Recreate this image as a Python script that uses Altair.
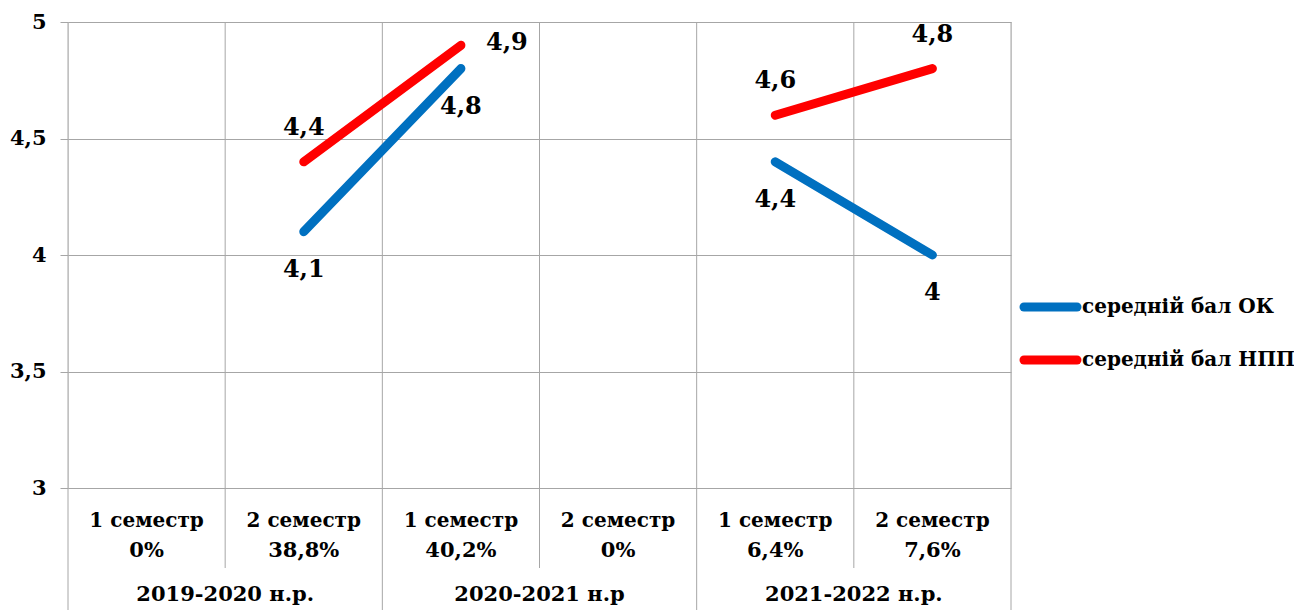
import altair as alt
import pandas as pd

# ---- data ----
semesters = ["1 семестр", "2 семестр", "1 семестр", "2 семестр", "1 семестр", "2 семестр"]
shares = ["0%", "38,8%", "40,2%", "0%", "6,4%", "7,6%"]
years = ["2019-2020 н.р.", "2020-2021 н.р", "2021-2022 н.р."]
series_names = ["середній бал ОК", "середній бал НПП"]
ok_values = [None, 4.1, 4.8, None, 4.4, 4.0]
npp_values = [None, 4.4, 4.9, None, 4.6, 4.8]
ok_label_pos = [None, "below", "below", None, "below", "below"]
npp_label_pos = [None, "above", "right", None, "above", "above"]
colors = ["#0070C0", "#FF0000"]

FONT = "DejaVu Serif"

# ---- tables ----
rows = []
for name, vals, pos in [(series_names[0], ok_values, ok_label_pos),
                        (series_names[1], npp_values, npp_label_pos)]:
    seg = 0
    prev_null = True
    for i, v in enumerate(vals):
        if v is None:
            prev_null = True
            continue
        if prev_null:
            seg += 1
        prev_null = False
        rows.append({"series": name, "xi": i + 0.5, "value": v,
                     "segment": f"{name}-{seg}", "pos": pos[i]})
df = pd.DataFrame(rows)

cats = pd.DataFrame({"xi": [i + 0.5 for i in range(len(semesters))],
                     "sem": semesters, "share": shares})
grp = pd.DataFrame({"xc": [2 * i + 1 for i in range(len(years))], "year": years})
bounds = pd.DataFrame({"b": list(range(len(semesters) + 1))})
bounds["outer"] = bounds["b"] % 2 == 0

xscale = alt.Scale(domain=[0, len(semesters)], nice=False, zero=False)
yscale = alt.Scale(domain=[3, 5], nice=False, zero=False)
color = alt.Color("series:N", scale=alt.Scale(domain=series_names, range=colors), legend=None)

# y axis with horizontal gridlines
yaxis = alt.Axis(values=[3, 3.5, 4, 4.5, 5], grid=True, gridColor="#A6A6A6", gridWidth=1,
                 domain=False, tickSize=8, tickColor="#A6A6A6", labelPadding=14,
                 labelFont=FONT, labelFontWeight="bold", labelFontSize=21, labelColor="#000000",
                 labelExpr="datum.value % 1 == 0 ? format(datum.value, 'd') : replace(format(datum.value, '.1f'), '.', ',')",
                 title=None)

base_axis = alt.Chart(bounds).mark_point(opacity=0).encode(
    x=alt.X("b:Q", scale=xscale, axis=None),
    y=alt.Y("b:Q", scale=yscale, axis=yaxis),
).transform_filter("false")

outer_rules = alt.Chart(bounds).transform_filter("datum.outer").mark_rule(
    color="#A6A6A6", strokeWidth=1).encode(
    x=alt.X("b:Q", scale=xscale), y=alt.value(0), y2=alt.value(600))
inner_rules = alt.Chart(bounds).transform_filter("!datum.outer").mark_rule(
    color="#A6A6A6", strokeWidth=1).encode(
    x=alt.X("b:Q", scale=xscale), y=alt.value(0), y2=alt.value(546))

lines = alt.Chart(df).mark_line(strokeWidth=9, strokeCap="round", strokeJoin="round").encode(
    x=alt.X("xi:Q", scale=xscale),
    y=alt.Y("value:Q", scale=yscale),
    color=color,
    detail="segment:N",
)

lbl_calc = "replace(format(datum.value, '~g'), '.', ',')"
def labels(pos, dx, dy):
    return alt.Chart(df).transform_filter(f"datum.pos == '{pos}'").transform_calculate(
        lbl=lbl_calc).mark_text(font=FONT, fontWeight="bold", fontSize=24, color="#000000",
                                baseline="middle", align="center", dx=dx, dy=dy).encode(
        x=alt.X("xi:Q", scale=xscale), y=alt.Y("value:Q", scale=yscale), text="lbl:N")

lab_below = labels("below", 0, 38)
lab_above = labels("above", 0, -34)
lab_right = labels("right", 46, -2)

def cat_text(src, field, xfield, ypx, size):
    return alt.Chart(src).mark_text(font=FONT, fontWeight="bold", fontSize=size, color="#000000",
                                    baseline="middle").encode(
        x=alt.X(f"{xfield}:Q", scale=xscale), y=alt.value(ypx), text=f"{field}:N")

sem_text = cat_text(cats, "sem", "xi", 499, 20)
share_text = cat_text(cats, "share", "xi", 529, 21)
year_text = cat_text(grp, "year", "xc", 573, 21)

# legend drawn manually
leg_layers = []
for k, name in enumerate(series_names):
    ldf = pd.DataFrame({"series": [name]})
    ly = 285 + 53 * k
    leg_layers.append(alt.Chart(ldf).mark_rule(strokeWidth=9, strokeCap="round").encode(
        x=alt.value(956), x2=alt.value(1009), y=alt.value(ly), color=color))
    leg_layers.append(alt.Chart(ldf).mark_text(font=FONT, fontWeight="bold", fontSize=20,
                                               color="#000000", align="left", baseline="middle").encode(
        x=alt.value(1014), y=alt.value(ly), text="series:N"))

chart = alt.layer(base_axis, outer_rules, inner_rules, lines, lab_below, lab_above, lab_right,
                  sem_text, share_text, year_text, *leg_layers).properties(
    width=943, height=466,
    autosize=alt.AutoSizeParams(type="none"),
    padding={"left": 60, "top": 14, "right": 283, "bottom": 122},
).configure_view(stroke=None).configure(background="white")

chart.save("out.html", embed_options={"renderer": "svg", "actions": False})
